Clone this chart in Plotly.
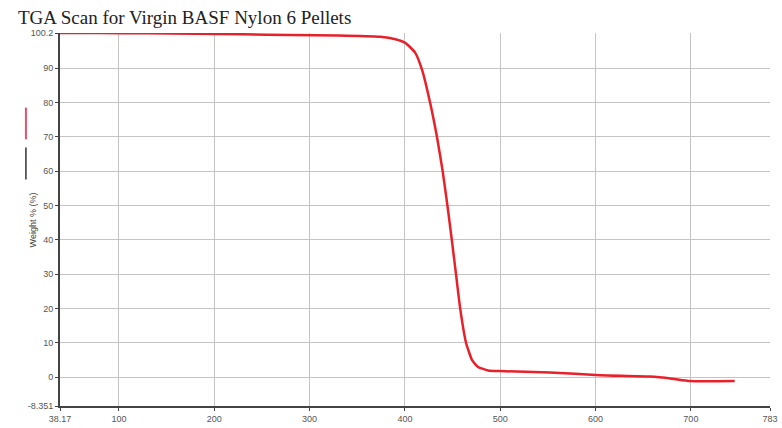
import plotly.graph_objects as go

temperature_c = [38.17, 80, 130, 180, 230, 280, 330, 374, 390, 400, 410.7, 418, 426.4,
                 433.6, 439.6, 444.6, 449.2, 453.6, 458.0, 464.2, 470.5, 476.8, 487.3,
                 500, 552, 604.8, 657, 680, 699, 746]
weight_pct = [100.2, 100.2, 100.1, 100.0, 99.8, 99.6, 99.5, 99.1, 98.4, 97.4, 94.5, 89.5, 80,
              70, 60, 50, 40, 30, 20, 10, 5, 3, 2,
              1.8, 1.4, 0.6, 0.2, -0.4, -1.1, -1.1]

x_tick_vals = [38.17, 100, 200, 300, 400, 500, 600, 700, 783]
x_tick_text = ["38.17", "100", "200", "300", "400", "500", "600", "700", "783"]
y_tick_vals = [-8.351, 0, 10, 20, 30, 40, 50, 60, 70, 80, 90, 100.2]
y_tick_text = ["-8.351", "0", "10", "20", "30", "40", "50", "60", "70", "80", "90", "100.2"]

fig = go.Figure()
fig.add_trace(go.Scatter(x=temperature_c, y=weight_pct, mode="lines",
                         line=dict(color="#e8202a", width=2.5, shape="spline", smoothing=0.5),
                         showlegend=False, hoverinfo="skip"))

fig.update_layout(
    width=782, height=428,
    margin=dict(l=60, r=12, t=33, b=22, autoexpand=False),
    paper_bgcolor="white", plot_bgcolor="white",
    title=dict(text="TGA Scan for Virgin BASF Nylon 6 Pellets", x=0.023, xanchor="left",
               xref="container", yref="container", automargin=False,
               y=0.96, yanchor="middle", pad=dict(l=0, r=0, t=0, b=0),
               font=dict(family="Liberation Serif", size=19, color="#222")),
    xaxis=dict(range=[38.17, 783], tickvals=x_tick_vals, ticktext=x_tick_text,
               showgrid=True, gridcolor="#c4c4c4", gridwidth=1, automargin=False,
               showline=True, linecolor="#444", linewidth=2,
               ticks="outside", ticklen=3, tickcolor="#444",
               tickfont=dict(family="Liberation Sans", size=9, color="#555"), zeroline=False),
    yaxis=dict(range=[-8.351, 100.2], tickvals=y_tick_vals, ticktext=y_tick_text,
               showgrid=True, gridcolor="#c4c4c4", gridwidth=1, automargin=False,
               showline=True, linecolor="#444", linewidth=2,
               ticks="outside", ticklen=3, tickcolor="#444",
               tickfont=dict(family="Liberation Sans", size=9, color="#555"), zeroline=False),
)

# legend-like vertical markers on the left
fig.add_shape(type="line", xref="paper", yref="paper", x0=-0.048, x1=-0.048,
              y0=0.80, y1=0.715, line=dict(color="#e8506a", width=2))
fig.add_shape(type="line", xref="paper", yref="paper", x0=-0.048, x1=-0.048,
              y0=0.693, y1=0.607, line=dict(color="#333", width=1.5))
fig.add_annotation(text="Weight % (%)", xref="paper", yref="paper", x=-0.048, y=0.50,
                   textangle=-90, showarrow=False,
                   font=dict(family="Liberation Sans", size=9, color="#444"))

fig.write_html("out.html", config={"displayModeBar": False},
               post_script="document.body.style.margin='0';document.body.style.overflow='hidden';")
